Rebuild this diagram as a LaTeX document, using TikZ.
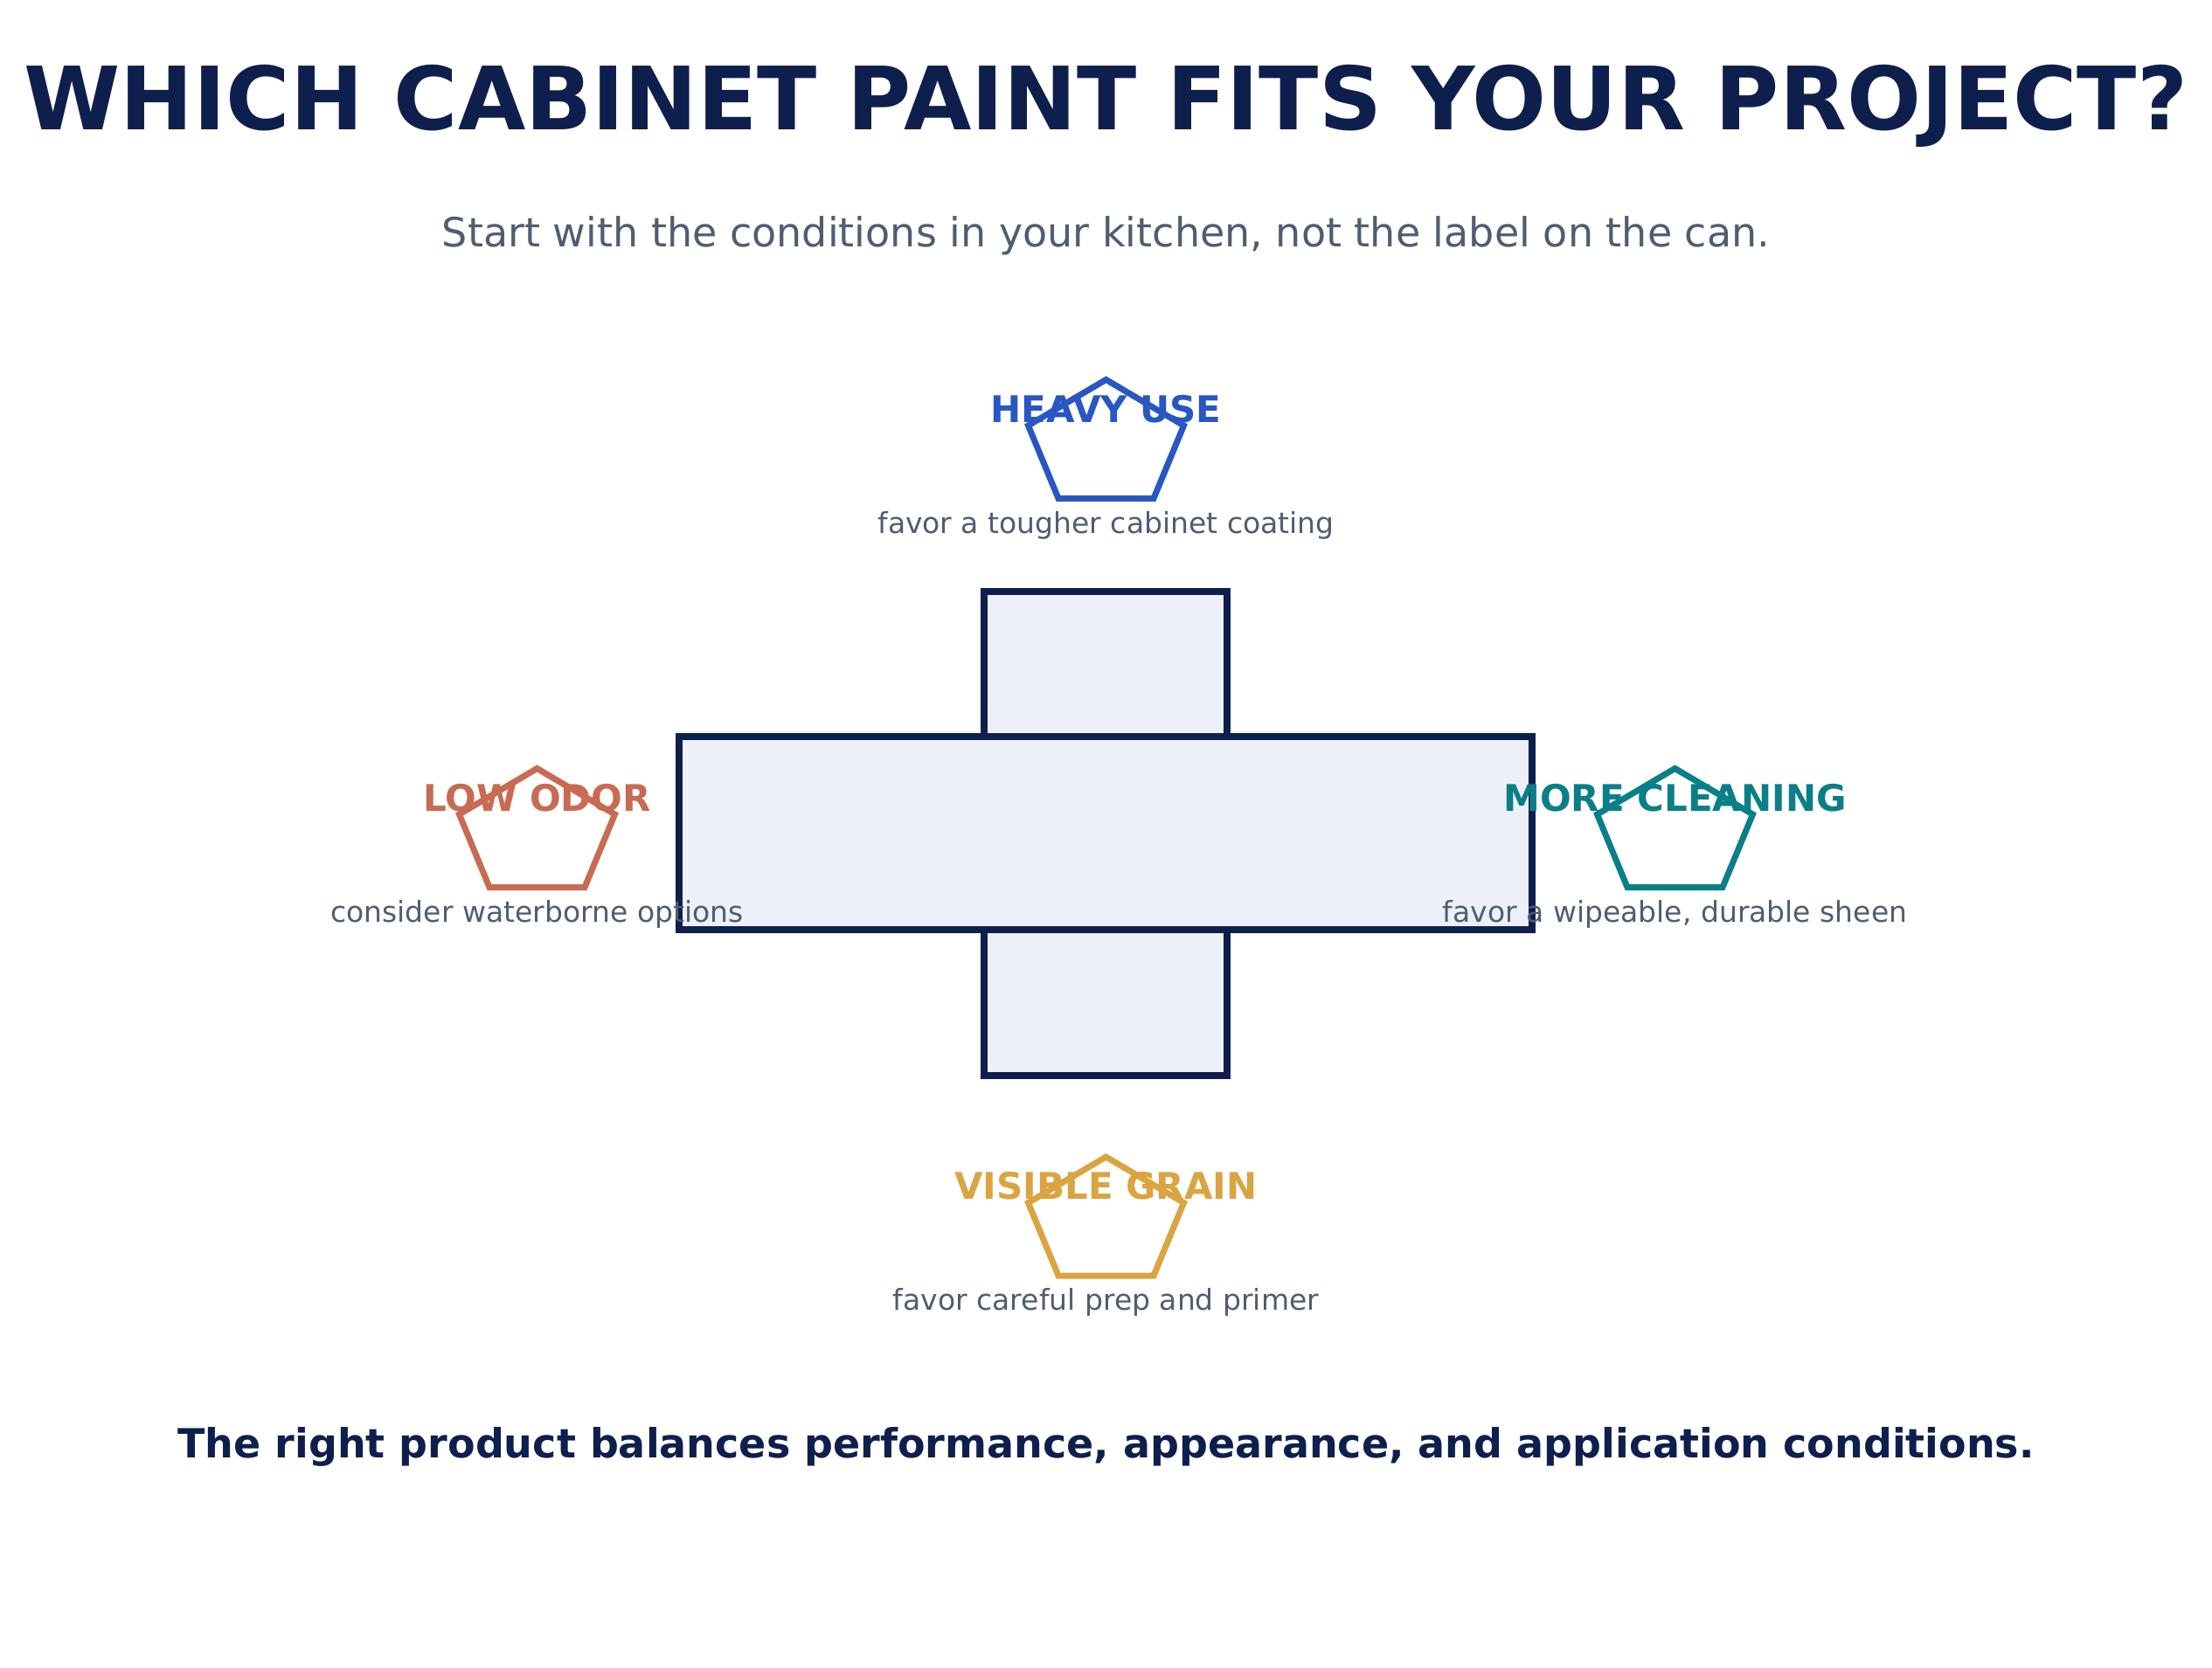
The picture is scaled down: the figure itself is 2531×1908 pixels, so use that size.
\documentclass[tikz,border=0pt]{standalone}
\usepackage{fontspec}
\setmainfont{DejaVu Sans}
\definecolor{navy}{HTML}{0E1F4D}
\definecolor{slate}{HTML}{4F5D73}
\definecolor{crossfill}{HTML}{EDF0F8}
\definecolor{cblue}{HTML}{2857C4}
\definecolor{cterra}{HTML}{C86B52}
\definecolor{cteal}{HTML}{0A7F87}
\definecolor{cgold}{HTML}{DAA441}
\tikzset{
  txt/.style={anchor=base,inner sep=0pt,outer sep=0pt},
  titletxt/.style={txt,text=navy,font=\fontsize{100}{110}\selectfont\bfseries},
  subtxt/.style={txt,text=slate,font=\fontsize{46}{54}\selectfont},
  foottxt/.style={txt,text=navy,font=\fontsize{46}{54}\selectfont\bfseries},
  lbl/.style={txt,font=\fontsize{42}{48}\selectfont\bfseries},
  desc/.style={txt,text=slate,font=\fontsize{33}{40}\selectfont},
  pent/.style={line width=7pt,line join=miter},
  crossbox/.style={draw=navy,fill=crossfill,line width=8pt,line join=miter}
}
\newcommand\optgroup[6]{%
  \begin{scope}[shift={(#2,#3)}]
    \draw[pent,draw=#4] (0,-74.5) -- (89,-22) -- (54.5,61.5) -- (-54.5,61.5) -- (-89,-22) -- cycle;
    \node[lbl,text=#4] (#1-lbl) at (0,-26) {#5};
    \node[desc] (#1-desc) at (0,101) {#6};
  \end{scope}}
\begin{document}
\begin{tikzpicture}[x=1pt,y=-1pt]
\useasboundingbox[fill=white] (0,0) rectangle (2531,1908);
\node[titletxt] (title) at (1265.5,148) {WHICH CABINET PAINT FITS YOUR PROJECT?};
\node[subtxt] (subtitle) at (1265.5,282) {Start with the conditions in your kitchen, not the label on the can.};
% cross
\draw[crossbox] (1126,677) rectangle (1404,1231);
\draw[crossbox] (777,843) rectangle (1753,1064);
% option groups
\optgroup{heavy}{1265.5}{509}{cblue}{HEAVY USE}{favor a tougher cabinet coating}
\optgroup{odor}{614.5}{954}{cterra}{LOW ODOR}{consider waterborne options}
\optgroup{clean}{1916.5}{954}{cteal}{MORE CLEANING}{favor a wipeable, durable sheen}
\optgroup{grain}{1265.5}{1398.5}{cgold}{VISIBLE GRAIN}{favor careful prep and primer}
\node[foottxt] (footer) at (1265.5,1668) {The right product balances performance, appearance, and application conditions.};
\end{tikzpicture}
\end{document}
